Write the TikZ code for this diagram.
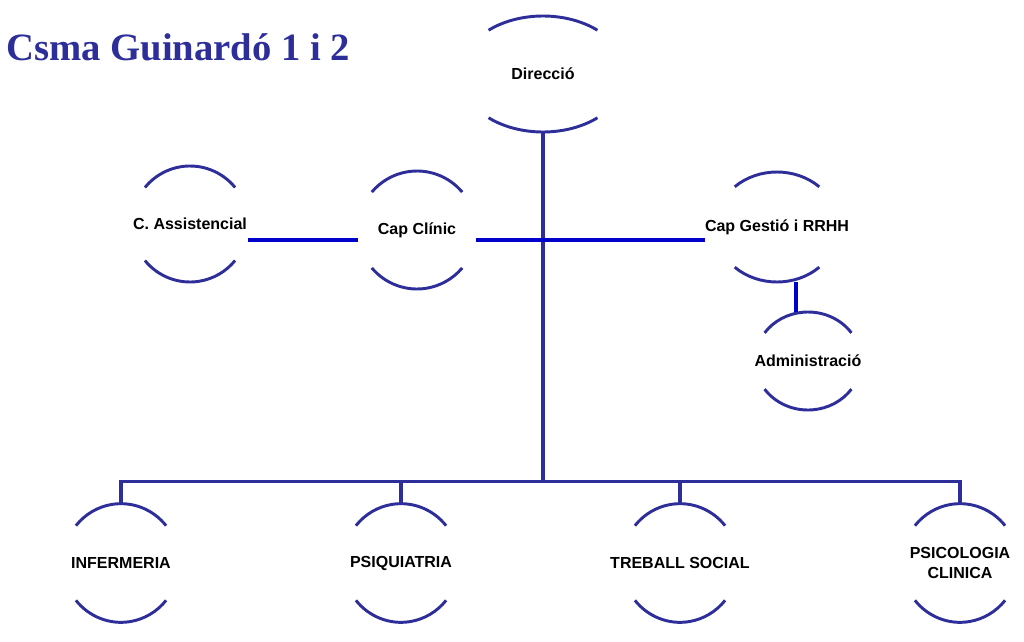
\documentclass[tikz,border=0pt]{standalone}
\usepackage{fontspec}
\setmainfont{Liberation Sans}
\newfontfamily\titlefont{Liberation Serif}
\usepackage{tikz}
\definecolor{orgblue}{RGB}{46,46,154}
\definecolor{linkblue}{RGB}{0,0,204}
\tikzstyle{unit} = [rectangle, inner sep=0pt, outer sep=0pt,
    align=center, font=\fontsize{12}{15}\selectfont\bfseries]
\tikzstyle{title} = [inner sep=0pt, text=orgblue,
    font=\titlefont\fontsize{29}{34}\selectfont\bfseries]
\tikzstyle{arcline} = [draw=orgblue, line width=2.2pt]
\tikzstyle{trunk} = [draw=orgblue, line width=2.4pt]
\tikzstyle{link} = [draw=linkblue, line width=3pt]
% top and bottom arcs round a unit: node, x radius, y radius, angle
\newcommand{\orglens}[4]{%
  \draw[arcline] ([shift={(#4:#2 and #3)}]#1.center) arc[start angle=#4, end angle=180-#4, x radius=#2, y radius=#3];
  \draw[arcline] ([shift={(180+#4:#2 and #3)}]#1.center) arc[start angle=180+#4, end angle=360-#4, x radius=#2, y radius=#3];}

\begin{document}
\begin{tikzpicture}[x=0.75pt, y=-0.75pt]
\useasboundingbox (0,0) rectangle (1024,642);
\node [title, anchor=base west] at (6,61) (title) {Csma Guinardó 1 i 2};

\node [unit, minimum width=124.5pt, minimum height=87pt] at (543,74) (dir) {Direcció};
\node [unit, minimum width=87pt, minimum height=87pt] at (190,224) (cass) {C. Assistencial};
\node [unit, minimum width=88.5pt, minimum height=88.5pt] at (417,230) (capc) {Cap Clínic};
\node [unit, minimum width=93pt, minimum height=82.5pt] at (777,227) (capg) {Cap Gestió i RRHH};
\node [unit, minimum width=79.5pt, minimum height=73.5pt] at (808,361) (admin) {Administració};

\node [unit, minimum width=87pt, minimum height=89pt] at (121,563) (infer) {INFERMERIA};
\node [unit, minimum width=87pt, minimum height=89pt] at (401,563) (psiq) {PSIQUIATRIA};
\node [unit, minimum width=87pt, minimum height=89pt] at (680,563) (treb) {TREBALL SOCIAL};
\node [unit, minimum width=87pt, minimum height=89pt] at (960,563) (psico) {PSICOLOGIA\\CLINICA};

\orglens{dir}{62.25pt}{43.5pt}{49}
\orglens{cass}{43.5pt}{43.5pt}{39}
\orglens{capc}{44.25pt}{44.25pt}{40}
\orglens{capg}{46.5pt}{41.25pt}{47}
\orglens{admin}{39.75pt}{36.75pt}{35}
\orglens{infer}{43.5pt}{44.5pt}{39}
\orglens{psiq}{43.5pt}{44.5pt}{39}
\orglens{treb}{43.5pt}{44.5pt}{39}
\orglens{psico}{43.5pt}{44.5pt}{39}

\coordinate (bus) at ([yshift=16.5pt]infer.north);
\draw [trunk] (infer.north) -- (bus) -| (psico.north);
\draw [trunk] (psiq.north) -- (psiq.north |- bus);
\draw [trunk] (treb.north) -- (treb.north |- bus);
\draw [trunk] (dir.south) -- (dir.south |- bus);

\draw [link] ([yshift=-12pt]cass.east) -- ([yshift=-12pt]cass.east -| capc.west);
\draw [link] ([yshift=-7.5pt]capc.east) -- ([yshift=-7.5pt]capc.east -| capg.west);
\draw [link, line width=3.5pt] ([xshift=-9pt]admin.north) -- ([xshift=-9pt]admin.north |- capg.south);
\end{tikzpicture}
\end{document}
